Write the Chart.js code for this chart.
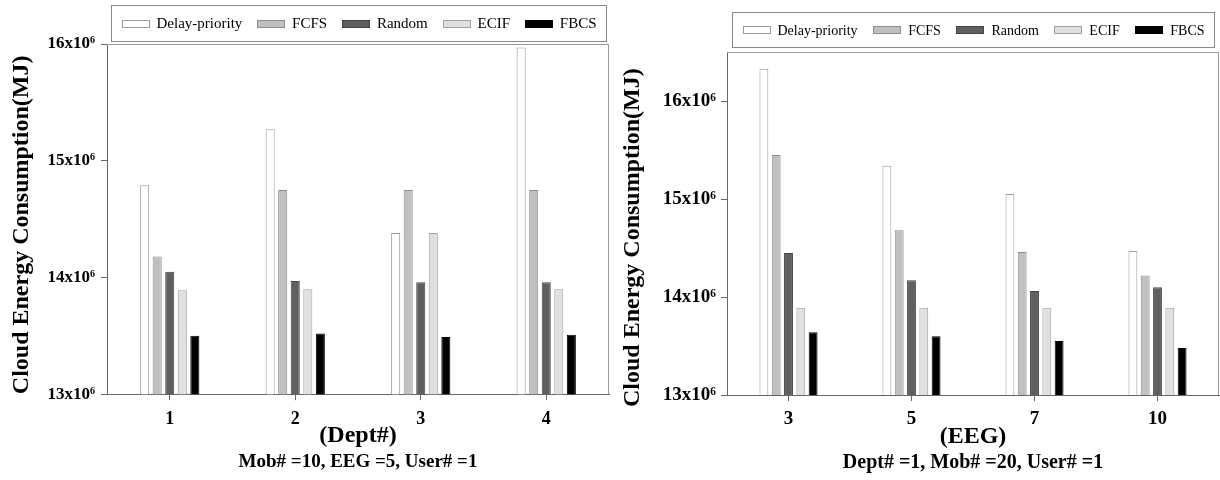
<!DOCTYPE html>
<html>
<head>
<meta charset="utf-8">
<script src="https://cdn.jsdelivr.net/npm/chart.js@4.4.1/dist/chart.umd.min.js"></script>
<style>
  body { margin: 0; background: #fff; }
  .panel { position: absolute; top: 0; height: 480px; }
  #leftBox { left: 0; width: 612px; }
  #rightBox { left: 612px; width: 608px; }
</style>
</head>
<body>
<div class="panel" id="leftBox"><canvas id="deptChart"></canvas></div>
<div class="panel" id="rightBox"><canvas id="eegChart"></canvas></div>
<script>
// Values are in units of 10^6 MJ
const seriesNames = ['Delay-priority', 'FCFS', 'Random', 'ECIF', 'FBCS'];

// Left panel: varying Dept#
const deptLabels = ['1', '2', '3', '4'];
const deptDelay = [14.79, 15.27, 14.38, 15.97];
const deptFCFS = [14.18, 14.75, 14.75, 14.75];
const deptRandom = [14.05, 13.97, 13.96, 13.96];
const deptECIF = [13.89, 13.90, 14.38, 13.90];
const deptFBCS = [13.50, 13.52, 13.49, 13.51];

// Right panel: varying EEG
const eegLabels = ['3', '5', '7', '10'];
const eegDelay = [16.33, 15.34, 15.05, 14.47];
const eegFCFS = [15.45, 14.68, 14.46, 14.22];
const eegRandom = [14.45, 14.17, 14.06, 14.10];
const eegECIF = [13.89, 13.89, 13.89, 13.89];
const eegFBCS = [13.64, 13.60, 13.55, 13.48];

const fills = ['#ffffff', '#c0c0c0', '#5f5f5f', '#e0e0e0', '#000000'];
const edges = ['#9a9a9a', '#8c8c8c', '#444444', '#a0a0a0', '#000000'];
const serif = "'Liberation Serif', 'Times New Roman', serif";

Chart.defaults.font.family = serif;
Chart.defaults.color = '#000';

// frame (top/right), rotated y title and boxed legend
const decorPlugin = {
    id: 'decor',
    afterDraw(chart, args, opts) {
        const ctx = chart.ctx;
        const a = chart.chartArea;
        ctx.save();
        ctx.strokeStyle = '#999';
        ctx.lineWidth = 1;
        ctx.beginPath();
        ctx.moveTo(a.left, a.top + 0.5);
        ctx.lineTo(a.right - 0.5, a.top + 0.5);
        ctx.lineTo(a.right - 0.5, a.bottom);
        ctx.stroke();

        // y axis title
        ctx.save();
        ctx.translate(opts.titleX, a.bottom + opts.titleDrop);
        ctx.rotate(-Math.PI / 2);
        ctx.font = 'bold ' + opts.titleSize + 'px ' + serif;
        ctx.textAlign = 'left';
        ctx.textBaseline = 'middle';
        ctx.fillStyle = '#000';
        ctx.fillText(opts.yTitle, 0, 0);
        ctx.restore();

        // legend
        const W = opts.legendWidth, H = opts.legendHeight;
        const lx = Math.round((a.left + a.right) / 2 - W / 2) + 0.5;
        const ly = Math.round(a.top - opts.legendGap - H) + 0.5;
        ctx.strokeStyle = '#888';
        ctx.strokeRect(lx, ly, W, H);
        ctx.font = opts.legendSize + 'px ' + serif;
        const boxW = 28, boxH = 8, gap = 7, pad = 10;
        const widths = chart.data.datasets.map(d => boxW + gap + ctx.measureText(d.label).width);
        const spacing = (W - 2 * pad - widths.reduce((s, w) => s + w, 0)) / (widths.length - 1);
        let x = lx + pad;
        const cy = ly + H / 2;
        ctx.textBaseline = 'middle';
        ctx.textAlign = 'left';
        chart.data.datasets.forEach((d, i) => {
            ctx.fillStyle = d.backgroundColor;
            ctx.fillRect(Math.round(x), Math.round(cy - boxH / 2), boxW, boxH);
            ctx.strokeStyle = d.borderColor;
            ctx.strokeRect(Math.round(x) + 0.5, Math.round(cy - boxH / 2) + 0.5, boxW - 1, boxH - 1);
            ctx.fillStyle = '#000';
            ctx.fillText(d.label, x + boxW + gap, cy + 1);
            x += widths[i] + spacing;
        });
        ctx.restore();
    }
};

function buildChart(id, s) {
    return new Chart(document.getElementById(id), {
        type: 'bar',
        data: {
            labels: s.labels,
            datasets: seriesNames.map((name, i) => ({
                label: name,
                data: s.values[i],
                backgroundColor: fills[i],
                borderColor: edges[i],
                borderWidth: 1,
                categoryPercentage: 0.5,
                barPercentage: 0.72
            }))
        },
        options: {
            responsive: true,
            maintainAspectRatio: false,
            devicePixelRatio: 1,
            animation: false,
            layout: { padding: s.padding },
            scales: {
                x: {
                    ticks: { font: { size: s.xTickSize, weight: 'bold' }, padding: s.xPad, color: '#000' },
                    grid: { drawOnChartArea: false, offset: false, tickLength: 6, color: '#666' },
                    border: { color: '#666' },
                    title: {
                        display: true,
                        text: s.xTitle,
                        font: { size: s.xTitleSize, weight: 'bold' },
                        padding: { top: 0, bottom: 0 },
                        color: '#000'
                    },
                    afterFit: sc => { sc.height = s.axisHeight; }
                },
                y: {
                    min: 13,
                    max: s.yMax,
                    ticks: {
                        stepSize: 1,
                        includeBounds: false,
                        padding: s.yPad,
                        font: { size: s.yTickSize, weight: 'bold' },
                        color: '#000',
                        callback: v => v + 'x10\u2076'
                    },
                    grid: { drawOnChartArea: false, tickLength: 6, color: '#666' },
                    border: { color: '#666' },
                    afterFit: sc => { sc.width = s.axisWidth; }
                }
            },
            plugins: {
                legend: { display: false },
                tooltip: { enabled: false },
                subtitle: {
                    display: true,
                    text: s.note,
                    position: 'bottom',
                    fullSize: false,
                    font: { size: s.noteSize, weight: 'bold' },
                    padding: { top: 0, bottom: 0 },
                    color: '#000'
                },
                decor: s.decor
            }
        },
        plugins: [decorPlugin]
    });
}

const deptChart = buildChart('deptChart', {
    labels: deptLabels,
    values: [deptDelay, deptFCFS, deptRandom, deptECIF, deptFBCS],
    yMax: 16,
    padding: { top: 44, right: 3, bottom: 7, left: 0 },
    axisWidth: 107,
    axisHeight: 56,
    yPad: 6,
    xPad: 8,
    yTickSize: 17,
    xTickSize: 18,
    xTitle: '(Dept#)',
    xTitleSize: 24,
    note: 'Mob# =10, EEG =5, User# =1',
    noteSize: 19,
    decor: {
        yTitle: 'Cloud Energy Consumption(MJ)', titleX: 22, titleDrop: 0, titleSize: 24,
        legendWidth: 495, legendHeight: 36, legendGap: 3, legendSize: 15
    }
});

const eegChart = buildChart('eegChart', {
    labels: eegLabels,
    values: [eegDelay, eegFCFS, eegRandom, eegECIF, eegFBCS],
    yMax: 16.5,
    padding: { top: 52, right: 1, bottom: 5, left: 0 },
    axisWidth: 115,
    axisHeight: 56,
    yPad: 5,
    xPad: 7,
    yTickSize: 19,
    xTickSize: 19,
    xTitle: '(EEG)',
    xTitleSize: 24,
    note: 'Dept# =1, Mob# =20, User# =1',
    noteSize: 20,
    decor: {
        yTitle: 'Cloud Energy Consumption(MJ)', titleX: 21, titleDrop: 12, titleSize: 24,
        legendWidth: 482, legendHeight: 35, legendGap: 5, legendSize: 14
    }
});
</script>
</body>
</html>
